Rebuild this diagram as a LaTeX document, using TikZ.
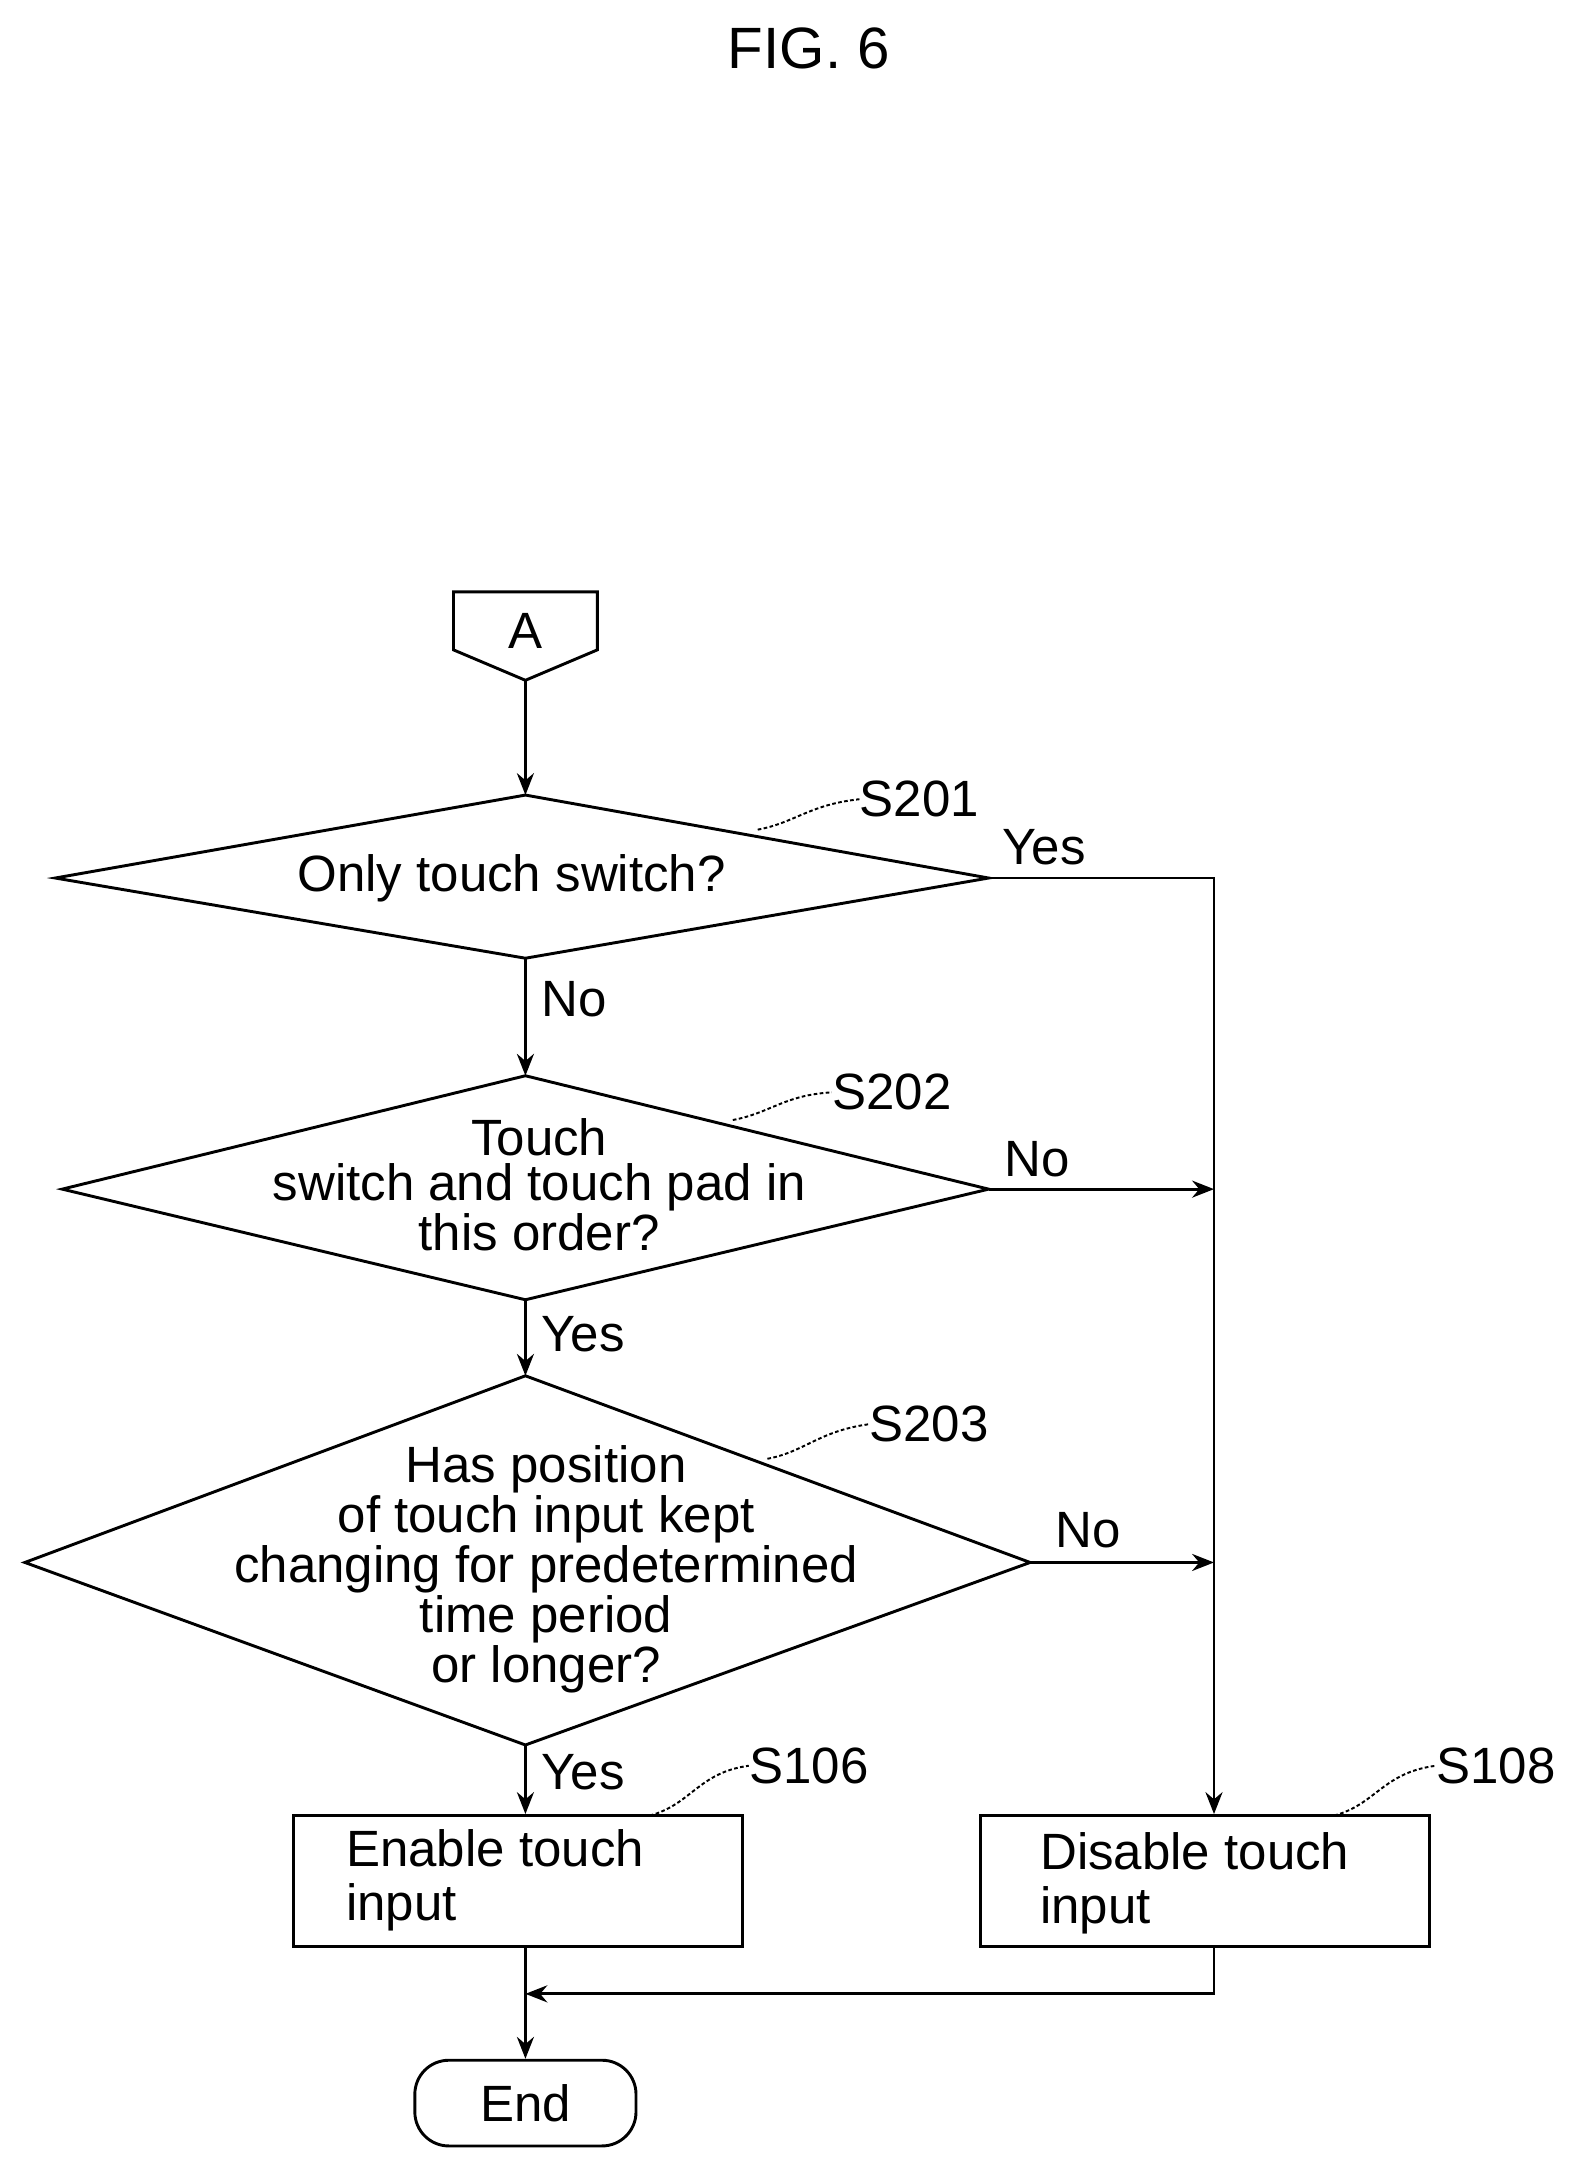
\documentclass[tikz,border=0pt]{standalone}
\usepackage{fontspec}
\setmainfont{Liberation Sans}
\usetikzlibrary{arrows.meta}
\tikzset{
  line/.style={line width=1.2pt},
  flow/.style={line, -{Stealth[length=9pt,width=7pt]}},
  txt/.style={font=\fontsize{21}{18.5}\selectfont, align=center, inner sep=0pt},
  boxtxt/.style={font=\fontsize{21}{22}\selectfont, align=left, inner sep=0pt, anchor=west},
  box/.style={line, draw, minimum width=6.5cm, minimum height=1.9cm, inner sep=0pt},
  tag/.style={line width=0.8pt, dash pattern=on 1.5pt off 1pt}
}
\begin{document}
\begin{tikzpicture}[x=0.02cm, y=-0.02cm]
	\useasboundingbox (0, 0) rectangle (1140, 1560);
	\node[txt, font=\fontsize{24}{24}\selectfont] (fig) at (585, 35) {FIG. 6};
	
	% connector A
	\draw[line] (328, 428) -- (432, 428) -- (432, 470) -- (380, 492) -- (328, 470) -- cycle;
	\node[txt] (a) at (380, 456) {A};
	\coordinate (aout) at (380, 492);
	
	% decisions
	\coordinate (d1t) at (380, 575); \coordinate (d1b) at (380, 693);
	\coordinate (d1l) at (40, 635); \coordinate (d1r) at (715, 635);
	\draw[line] (d1t) -- (d1r) -- (d1b) -- (d1l) -- cycle;
	\node[txt] (d1) at (370, 635) {Only touch switch?};
	
	\coordinate (d2t) at (380, 778); \coordinate (d2b) at (380, 940);
	\coordinate (d2l) at (45, 860); \coordinate (d2r) at (715, 860);
	\draw[line] (d2t) -- (d2r) -- (d2b) -- (d2l) -- cycle;
	\node[txt] (d2) at (390, 857) {Touch\\switch and touch pad in\\this order?};
	
	\coordinate (d3t) at (380, 995); \coordinate (d3b) at (380, 1262);
	\coordinate (d3l) at (18, 1130); \coordinate (d3r) at (745, 1130);
	\draw[line] (d3t) -- (d3r) -- (d3b) -- (d3l) -- cycle;
	\node[txt] (d3) at (395, 1135) {Has position\\of touch input kept\\changing for predetermined\\time period\\or longer?};
	
	% processes
	\node[box] (s106) at (374.5, 1360.5) {};
	\node[boxtxt] (s106t) at (250, 1360) {Enable touch\\input};
	\node[box] (s108) at (871.5, 1360.5) {};
	\node[boxtxt] (s108t) at (752, 1362) {Disable touch\\input};
	\node[line, draw, rounded corners=14pt, minimum width=3.2cm, minimum height=1.24cm, txt] (end) at (380, 1521) {End};
	
	% step tags
	\node[txt] (l201) at (665, 578) {S201};
	\node[txt] (l202) at (645, 790) {S202};
	\node[txt] (l203) at (672, 1030) {S203};
	\node[txt] (l106) at (585, 1277) {S106};
	\node[txt] (l108) at (1082, 1277) {S108};
	\draw[tag] (548, 600) .. controls (575, 595) and (585, 582) .. (l201.west);
	\draw[tag] (530, 810) .. controls (557, 805) and (567, 792) .. (l202.west);
	\draw[tag] (555, 1055) .. controls (582, 1050) and (592, 1035) .. (l203.west);
	\draw[tag] (470, 1313) .. controls (500, 1305) and (505, 1282) .. (l106.west);
	\draw[tag] (965, 1313) .. controls (995, 1305) and (1000, 1282) .. (l108.west);
	
	% flow
	\coordinate (rail) at (878, 635);
	\coordinate (m2) at (878, 860);
	\coordinate (m3) at (878, 1130);
	\coordinate (join) at (380, 1442);
	\draw[flow] (aout) -- (d1t);
	\draw[flow] (d1b) -- node[txt, right=6pt, pos=0.35] {No} (d2t);
	\draw[flow] (d2b) -- node[txt, right=6pt, pos=0.45] {Yes} (d3t);
	\draw[flow] (d3b) -- node[txt, right=6pt, pos=0.4] {Yes} (s106.north -| d3b);
	\draw[flow] (d1r) -- (rail) -- (s108.north -| rail);
	\node[txt] (yes1) at (755, 613) {Yes};
	\draw[flow] (d2r) -- (m2);
	\node[txt] (no2) at (750, 838) {No};
	\draw[flow] (d3r) -- (m3);
	\node[txt] (no3) at (787, 1107) {No};
	\draw[flow] (s108.south -| rail) -- (878, 1442) -- (join);
	\draw[flow] (s106.south -| join) -- (end);
\end{tikzpicture}
\end{document}
